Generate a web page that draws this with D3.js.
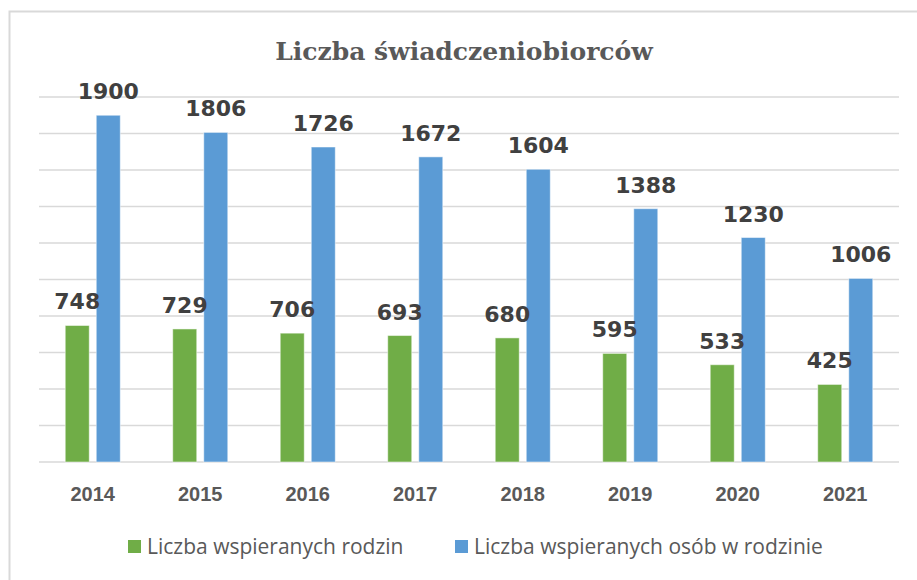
<!DOCTYPE html>
<html>
<head>
<meta charset="utf-8">
<script src="https://cdn.jsdelivr.net/npm/d3@7/dist/d3.min.js"></script>
<style>
  body { margin: 0; background: white; }
</style>
</head>
<body>
<div id="container"></div>
<script>
const width = 917;
const height = 580;

const years = ["2014", "2015", "2016", "2017", "2018", "2019", "2020", "2021"];
const families = [748, 729, 706, 693, 680, 595, 533, 425];
const persons = [1900, 1806, 1726, 1672, 1604, 1388, 1230, 1006];
const seriesNames = ["Liczba wspieranych rodzin", "Liczba wspieranych osób w rodzinie"];
const seriesColors = ["#70AD47", "#5B9BD5"];
const yTicks = [0, 200, 400, 600, 800, 1000, 1200, 1400, 1600, 1800, 2000];

const rows = years.map((y, i) => ({ year: y, values: [families[i], persons[i]] }));

const svg = d3.select("#container")
  .append("svg")
  .attr("width", width)
  .attr("height", height);

// chart frame (only top and left edges visible)
svg.append("rect")
  .attr("x", 9.5)
  .attr("y", 11.5)
  .attr("width", 940)
  .attr("height", 600)
  .attr("fill", "white")
  .attr("stroke", "#d9d9d9")
  .attr("stroke-width", 2);

// plot area
const plotLeft = 39, plotRight = 899, plotTop = 97, plotBottom = 462;

let x = d3.scaleBand()
  .domain(years)
  .range([plotLeft, plotRight])
  .paddingInner(0.488)
  .paddingOuter(0.244);

let xInner = d3.scaleBand()
  .domain([0, 1])
  .range([0, x.bandwidth()])
  .paddingInner(0.226);

let y = d3.scaleLinear()
  .domain([0, 2000])
  .range([plotBottom, plotTop]);

// gridlines
svg.append("g")
  .selectAll("line")
  .data(yTicks)
  .enter()
  .append("line")
  .attr("x1", plotLeft)
  .attr("x2", plotRight)
  .attr("y1", d => y(d))
  .attr("y2", d => y(d))
  .attr("stroke", "#d9d9d9")
  .attr("stroke-width", 1.5);

let groups = svg.selectAll(".year")
  .data(rows)
  .enter()
  .append("g")
  .attr("class", "year")
  .attr("transform", d => "translate(" + x(d.year) + ",0)");

groups.selectAll("rect")
  .data(d => d.values)
  .enter()
  .append("rect")
  .attr("x", (d, i) => xInner(i))
  .attr("y", d => y(d))
  .attr("width", xInner.bandwidth())
  .attr("height", d => y(0) - y(d))
  .attr("fill", (d, i) => seriesColors[i])
  .attr("stroke", "white")
  .attr("stroke-opacity", 0.5)
  .attr("stroke-width", 1);

// value labels
groups.selectAll("text")
  .data(d => d.values)
  .enter()
  .append("text")
  .attr("x", (d, i) => xInner(i) + xInner.bandwidth() / 2)
  .attr("y", d => y(d) - 16)
  .attr("text-anchor", "middle")
  .attr("font-family", "DejaVu Sans")
  .attr("font-weight", "bold")
  .attr("font-size", 22)
  .attr("fill", "#404040")
  .text(d => d);

// x axis
let xAxis = d3.axisBottom(x).tickSize(0).tickPadding(0);
let axisG = svg.append("g")
  .attr("transform", "translate(0," + (plotBottom + 39) + ")")
  .call(xAxis);
axisG.select(".domain").remove();
axisG.selectAll("text")
  .attr("font-family", "Liberation Sans")
  .attr("font-weight", "bold")
  .attr("font-size", 20)
  .attr("fill", "#595959")
  .attr("dy", 0);

// title
svg.append("text")
  .attr("x", 464)
  .attr("y", 60)
  .attr("text-anchor", "middle")
  .attr("font-family", "DejaVu Serif")
  .attr("font-weight", "bold")
  .attr("font-size", 25)
  .attr("fill", "#595959")
  .text("Liczba świadczeniobiorców");

// legend
const legendX = [128, 455];
let legend = svg.selectAll(".legend")
  .data(seriesNames)
  .enter()
  .append("g")
  .attr("class", "legend")
  .attr("transform", (d, i) => "translate(" + legendX[i] + ",540)");

legend.append("rect")
  .attr("width", 13)
  .attr("height", 13)
  .attr("fill", (d, i) => seriesColors[i]);

legend.append("text")
  .attr("x", 19)
  .attr("y", 14)
  .attr("font-family", "Open Sans")
  .attr("font-size", 21)
  .attr("fill", "#595959")
  .text(d => d);
</script>
</body>
</html>
